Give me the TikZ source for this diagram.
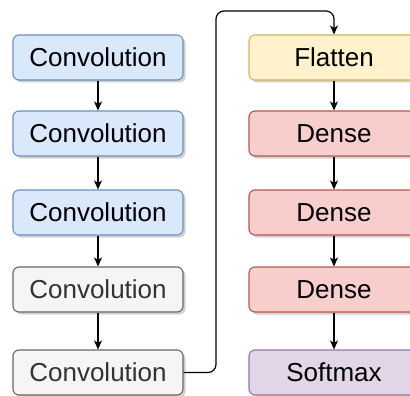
\documentclass[tikz,border=0pt]{standalone}
\usepackage{fontspec}
\setmainfont{Liberation Sans}
\usetikzlibrary{arrows.meta,shadows,positioning}
\definecolor{bluefill}{HTML}{DAE8FC}\definecolor{bluedraw}{HTML}{6C8EBF}
\definecolor{grayfill}{HTML}{F5F5F5}\definecolor{graydraw}{HTML}{666666}\definecolor{graytext}{HTML}{333333}
\definecolor{yellowfill}{HTML}{FFF2CC}\definecolor{yellowdraw}{HTML}{D6B656}
\definecolor{redfill}{HTML}{F8CECC}\definecolor{reddraw}{HTML}{B85450}
\definecolor{purplefill}{HTML}{E1D5E7}\definecolor{purpledraw}{HTML}{9673A6}
\tikzset{
  layer/.style={draw, line width=1.1pt, rounded corners=6pt, minimum width=170pt, minimum height=45pt,
    inner sep=0pt, font=\fontsize{26}{30}\selectfont,
    drop shadow={shadow xshift=2.5pt, shadow yshift=-2.5pt, opacity=0.3, fill=black!60}},
  blue/.style={layer, fill=bluefill, draw=bluedraw},
  grey/.style={layer, fill=grayfill, draw=graydraw, text=graytext},
  yellow/.style={layer, fill=yellowfill, draw=yellowdraw},
  red/.style={layer, fill=redfill, draw=reddraw},
  purple/.style={layer, fill=purplefill, draw=purpledraw},
  link/.style={line width=1.2pt, -{Stealth[length=9pt,width=8pt,inset=2.5pt]}},
}
\begin{document}
\begin{tikzpicture}[x=1pt,y=-1pt]
\useasboundingbox (0,0) rectangle (410,396);
\node[blue] (c1) at (98,57.5) {Convolution};
\node[blue] (c2) at (98,133.5) {Convolution};
\node[blue] (c3) at (98,212.5) {Convolution};
\node[grey] (c4) at (98,289.5) {Convolution};
\node[grey] (c5) at (98,372.5) {Convolution};
\node[yellow] (f) at (334,57.5) {Flatten};
\node[red] (d1) at (334,133.5) {Dense};
\node[red] (d2) at (334,212.5) {Dense};
\node[red] (d3) at (334,289.5) {Dense};
\node[purple] (s) at (334,372.5) {Softmax};
\draw[link] (c1) -- (c2);
\draw[link] (c2) -- (c3);
\draw[link] (c3) -- (c4);
\draw[link] (c4) -- (c5);
\draw[link] (f) -- (d1);
\draw[link] (d1) -- (d2);
\draw[link] (d2) -- (d3);
\draw[link] (d3) -- (s);
\coordinate (up1) at (216,372.5);
\coordinate (up2) at (216,11);
\coordinate (up3) at (334,11);
\draw[link, rounded corners=8pt] (c5.east) -- (up1) -- (up2) -- (up3) -- (f.north);
\end{tikzpicture}
\end{document}
